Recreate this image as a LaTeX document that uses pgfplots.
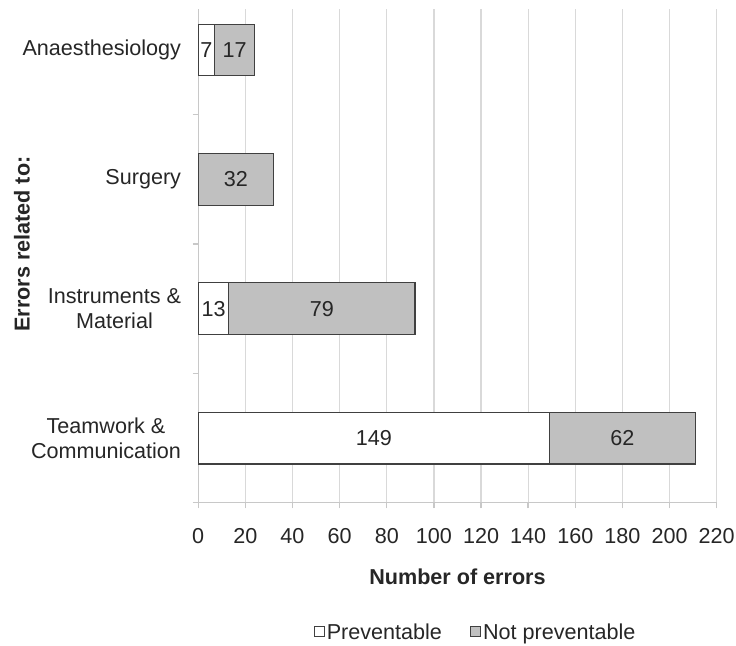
\documentclass[border=0pt]{standalone}
\usepackage{pgfplots}
\pgfplotsset{compat=1.18}
\usepackage{fontspec}
\setmainfont{Liberation Sans}
\usetikzlibrary{calc}
\definecolor{gridc}{HTML}{D9D9D9}
\definecolor{axisc}{HTML}{C8C8C8}
\definecolor{barfill}{HTML}{C0C0C0}
\definecolor{baredge}{HTML}{404040}
\definecolor{txt}{HTML}{262626}
\begin{document}
\begin{tikzpicture}
\begin{axis}[
  name=ax,
  scale only axis,
  width=518.7pt, height=494pt,
  xbar stacked,
  bar width=0.4,
  xmin=0, xmax=220,
  ymin=-0.5, ymax=3.317,
  enlargelimits=false,
  axis x line*=bottom,
  axis y line*=left,
  axis line style={axisc, line width=1.4pt},
  xtick={0,20,...,220},
  ytick={-0.5,0.5,1.5,2.5},
  yticklabels={},
  extra y ticks={0,1,2,3},
  extra y tick labels={{Teamwork \&\\Communication},{Instruments \&\\Material},Surgery,Anaesthesiology},
  extra y tick style={major tick length=0pt},
  yticklabel style={align=center, anchor=east, inner sep=0pt, xshift=-17pt, text=txt},
  xticklabel style={anchor=north, inner sep=0pt, yshift=-19.5pt, text=txt},
  /pgf/number format/assume math mode=true,
  tick align=outside,
  major tick length=5.5pt,
  tick style={axisc, line width=1.4pt},
  xmajorgrids,
  grid style={gridc, line width=1.3pt},
  font=\fontsize{21.6}{24.5}\selectfont,
  xlabel={\bfseries Number of errors},
  xlabel style={at={(axis description cs:0.5,-0.15)}, anchor=center, text=txt},
  ylabel={\bfseries Errors related to:},
  ylabel style={at={(axis description cs:-0.34,0.524)}, anchor=center, text=txt},
  legend style={at={(axis description cs:0.535,-0.263)}, anchor=center, draw=none, fill=none,
    legend columns=2, text=txt, font=\fontsize{21.6}{24.5}\selectfont,
    /tikz/every even column/.append style={column sep=26pt}},
  legend image code/.code={\draw[#1, line width=1.1pt] (-7pt,-4pt) rectangle (3pt,6pt);},
  point meta=explicit symbolic,
  nodes near coords={\pgfplotspointmeta},
  every node near coord/.append style={anchor=center, text=txt, font=\fontsize{21.6}{24.5}\selectfont},
]
\addplot[fill=white, draw=baredge, line width=1.2pt] coordinates {(149,0)[149] (13,1)[13] (0,2)[] (7,3)[7]};
\addplot[fill=barfill, draw=baredge, line width=1.2pt] coordinates {(62,0)[62] (79,1)[79] (32,2)[32] (17,3)[17]};
\legend{Preventable, Not preventable}
\end{axis}
\path[use as bounding box] ($(ax.south west)+(-198.3pt,-143pt)$) rectangle ($(ax.north east)+(19.3pt,9pt)$);
\end{tikzpicture}
\end{document}
